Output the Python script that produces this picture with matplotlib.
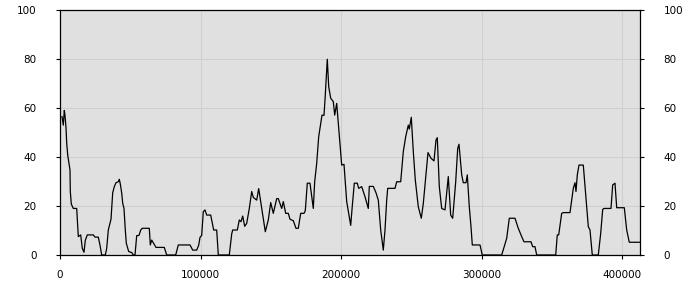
import matplotlib
matplotlib.use('Agg')
import matplotlib.pyplot as plt

# values
x_vals = [1422, 2347, 3058, 3556, 4267, 4765, 5476, 7112, 7325, 8036,
          9459, 11877, 12588, 13015, 14722, 15860, 17069, 17993, 19416, 23683,
          24892, 27239, 28448, 29657, 32218, 33213, 34351, 36271, 37480, 38618,
          39827, 41463, 42174, 42886, 43881, 44592, 45517, 46441, 47152, 48859,
          50993, 52131, 53340, 54549, 56185, 57394, 58532, 63511, 64222, 65218,
          66356, 68275, 74178, 75885, 82286, 84135, 92456, 94376, 97221, 98643,
          99568, 100777, 101915, 103124, 104333, 107178, 108316, 109312, 111445, 112584,
          120407, 122114, 122825, 126097, 127519, 128728, 129938, 131360, 132782, 134632,
          136338, 137476, 139894, 141317, 143450, 146011, 148144, 149851, 151700, 154118,
          155256, 157674, 158812, 160519, 162368, 163576, 165923, 167843, 169479, 171186,
          173533, 174458, 175880, 177800, 180147, 181143, 182565, 183988, 185410, 186334,
          187757, 188468, 190104, 191100, 192522, 194371, 195367, 196789, 198425, 200345,
          201981, 203901, 205324, 206746, 207670, 209306, 211440, 212435, 214569, 216916,
          219263, 219974, 222819, 224739, 226375, 228082, 229931, 231140, 232349, 233060,
          238252, 239461, 242306, 244155, 245862, 247711, 248422, 249845, 251267, 252690,
          254823, 256957, 258379, 259801, 261722, 263855, 265989, 267411, 268336, 269758,
          271465, 273812, 276159, 277866, 279288, 281422, 282844, 283769, 285689, 286827,
          288747, 289672, 291094, 292303, 293228, 298704, 300339, 314137, 317693, 319542,
          323596, 325943, 328361, 329997, 334975, 336184, 337820, 339029, 352542, 353680,
          354676, 356809, 357947, 362712, 365059, 366268, 366979, 367904, 369113, 372171,
          374091, 375727, 376936, 378572, 382839, 384546, 385968, 386893, 391871, 393080,
          394716, 395925, 401330, 403037, 404886, 412496]
y_vals = [56.5, 53, 59, 57, 52, 45.7, 40.8, 34.7, 26, 20.8,
          19, 19, 12.2, 7.5, 8.2, 2.7, 1.1, 6, 8.2, 8.2,
          7.3, 7.3, 4, 0, 0, 2.7, 10.2, 14.6, 25.4, 27.9,
          29.5, 29.9, 30.9, 29, 25.3, 21.1, 19, 10.2, 4.8, 1.4,
          1, 0, 0, 7.9, 8, 10.2, 10.9, 10.9, 4.1, 6.1,
          5, 3.1, 3.1, 0, 0, 4.1, 4.1, 2, 2, 4,
          7.2, 8, 17.7, 18.4, 16.3, 16.3, 13, 10.2, 10.2, 0,
          0, 8.6, 10.2, 10.2, 14.3, 13.6, 15.9, 11.7, 12.9, 19,
          25.9, 23.5, 22.4, 27.1, 19, 9.5, 14.3, 21.4, 17, 23,
          23, 19, 21.8, 17, 17, 14.6, 14, 10.9, 10.9, 17,
          17, 18.1, 29.3, 29.3, 19, 30, 37.4, 48.3, 53.7, 57.1,
          57, 63.3, 79.9, 68.7, 64, 62.6, 57.1, 61.9, 50.3, 36.7,
          37, 21.8, 17, 12.1, 18.6, 29.3, 29.3, 27.2, 27.9, 23.8,
          19, 28, 28, 25.4, 22.4, 10.2, 2, 10.2, 22.4, 27.2,
          27.2, 29.9, 29.9, 42.2, 48.3, 53, 51.4, 56.2, 42.2, 30.6,
          19.7, 15, 21, 29.9, 41.8, 39.5, 38.4, 46.9, 47.9, 27.9,
          19, 18.4, 32, 16.3, 15, 29.9, 43.5, 45.2, 32.7, 29.5,
          29.5, 32.7, 19.7, 11.6, 4.1, 4.1, 0, 0, 6.8, 15,
          15, 10.9, 7.5, 5.4, 5.4, 3.4, 3.4, 0, 0, 8.2,
          8.2, 17, 17.3, 17.3, 27.2, 29.5, 25.9, 32.7, 36.7, 36.7,
          23.1, 11.6, 10.2, 0, 0, 8.8, 18.6, 19, 19, 28.6,
          29.3, 19.3, 19.3, 10.2, 5.2, 5.2]

x_ticks = [0, 100000, 200000, 300000, 400000]
y_ticks = [0, 20, 40, 60, 80, 100]

plt.rcParams['font.family'] = 'DejaVu Sans'
fig = plt.figure(figsize=(7, 3), dpi=100)
ax = fig.add_axes([60/700, 45/300, 580/700, 245/300])
ax.set_facecolor('#e0e0e0')
ax.plot(x_vals, y_vals, color='black', lw=0.9)

ax.set_xlim(0, 412500)
ax.set_ylim(0, 100)
ax.set_xticks(x_ticks)
ax.set_xticklabels([str(t) for t in x_ticks])
ax.set_yticks(y_ticks)
ax.grid(True, color='#cfcfcf', lw=0.8)
ax.set_axisbelow(True)

ax.tick_params(axis='both', direction='out', length=3, width=0.8,
               labelsize=7.5, colors='black')
ax.tick_params(axis='y', right=True, labelright=True, pad=14)
ax.tick_params(axis='x', pad=8)
for s in ax.spines.values():
    s.set_linewidth(0.9)

fig.savefig('out.png', dpi=100, facecolor='white')
